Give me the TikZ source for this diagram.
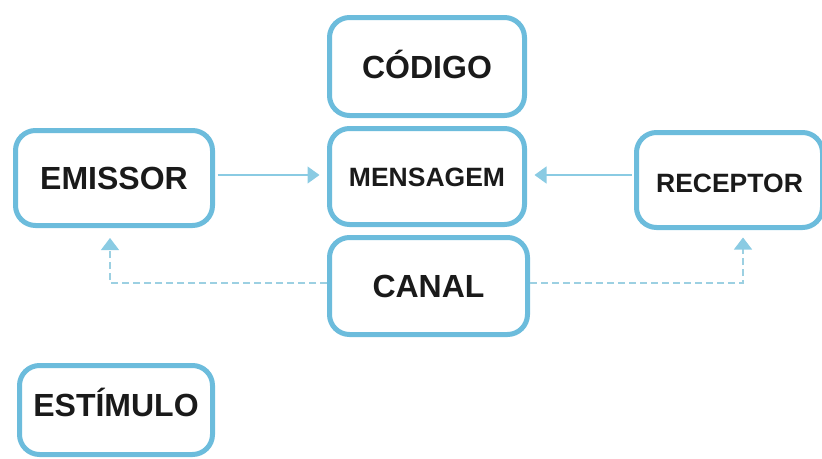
\documentclass[tikz,border=0pt]{standalone}
\usepackage{fontspec}
\setmainfont{Liberation Sans}
\usetikzlibrary{arrows.meta}
\definecolor{boxblue}{HTML}{6CBCDC}
\definecolor{linkblue}{HTML}{8ACBE3}
\definecolor{dashblue}{HTML}{9CD0E2}
\definecolor{ink}{HTML}{1A1A1A}
\tikzset{
  stagebox/.style={draw=boxblue, line width=5pt, rounded corners=20pt, fill=white,
    text=ink, inner sep=0pt, text depth=0pt},
  bigtext/.style={font=\fontsize{32}{32}\selectfont\bfseries, text height=23pt},
  smalltext/.style={font=\fontsize{26.5}{26.5}\selectfont\bfseries, text height=19pt},
  flow/.style={draw=linkblue, line width=1.2pt,
    -{Triangle[length=12pt,width=17pt,fill=linkblue,color=linkblue]},
    shorten <=2.5pt, shorten >=7.5pt},
  feedback/.style={draw=dashblue, line width=1.1pt, dash pattern=on 7pt off 4pt,
    -{Triangle[length=12pt,width=18pt,fill=linkblue,color=linkblue]}}
}
\begin{document}
\begin{tikzpicture}[x=1pt,y=-1pt]
  \useasboundingbox (0,0) rectangle (822,458);

  % stages of the communication process
  \node[stagebox, bigtext, minimum width=197pt, minimum height=95pt]
    (emi) at (114,178) {EMISSOR};
  \node[stagebox, bigtext, minimum width=195pt, minimum height=98pt]
    (cod) at (427,66.5) {CÓDIGO};
  \node[stagebox, smalltext, minimum width=195pt, minimum height=96pt]
    (msg) at (427,176.5) {MENSAGEM};
  \node[stagebox, bigtext, minimum width=198pt, minimum height=97pt]
    (can) at (428.5,286) {CANAL};
  \node[stagebox, smalltext, text height=24pt, minimum width=186pt, minimum height=95pt]
    (rec) at (729.5,180) {RECEPTOR};
  \node[stagebox, bigtext, text depth=11pt, minimum width=193pt, minimum height=89pt]
    (est) at (116,410) {ESTÍMULO};

  % sender and receiver both point at the message
  \coordinate (msgin) at ([yshift=1.5pt]msg.west);
  \coordinate (msgout) at ([yshift=1.5pt]msg.east);
  \draw[flow] (msgin -| emi.east) -- (msgin);
  \draw[flow] (msgout -| rec.west) -- (msgout);

  % the channel links back to sender and receiver
  \coordinate (canl) at ([yshift=3pt]can.west);
  \coordinate (canr) at ([yshift=3pt]can.east);
  \coordinate (emiin) at ([xshift=-4pt]emi.south);
  \coordinate (recin) at ([xshift=13.5pt]rec.south);
  \draw[feedback, shorten >=10pt] (canl) -- (canl -| emiin) -- (emiin);
  \draw[feedback, shorten >=7.5pt] (canr) -- (canr -| recin) -- (recin);
\end{tikzpicture}
\end{document}
